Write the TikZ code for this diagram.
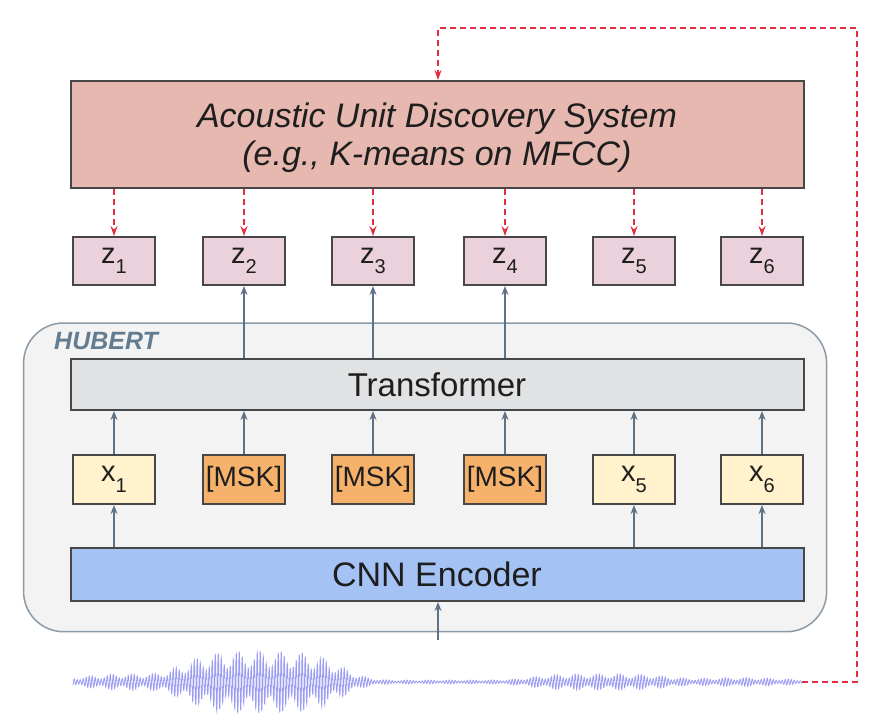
\documentclass[tikz,border=0pt]{standalone}
\usepackage{fontspec}
\setmainfont{Liberation Sans}
\usetikzlibrary{arrows.meta}
\definecolor{boxline}{HTML}{474747}
\definecolor{audfill}{HTML}{E6B8AF}
\definecolor{zfill}{HTML}{EAD1DC}
\definecolor{trfill}{HTML}{E1E2E4}
\definecolor{xfill}{HTML}{FFF2CC}
\definecolor{mskfill}{HTML}{F6B26B}
\definecolor{cnnfill}{HTML}{A4C2F4}
\definecolor{hubfill}{HTML}{F3F3F3}
\definecolor{hubline}{HTML}{8C9BA7}
\definecolor{hubtext}{HTML}{647C90}
\definecolor{arrcol}{HTML}{5E7285}
\definecolor{redc}{HTML}{E0303F}
\definecolor{wavec}{HTML}{5A5AEA}
\definecolor{txt}{HTML}{1E1E1E}
\newcommand\subs[1]{\raisebox{-0.36em}{\fontsize{20}{20}\selectfont #1}}
\begin{document}
\begin{tikzpicture}[x=1pt,y=-1pt,
  declare function={
    gA(\t,\c,\s)=exp(-pow(min(abs((\t-\c)/\s),4.5),2));
    gB(\t,\c,\s)=exp(-pow(min(abs((\t-\c)/\s),2.2),4));
    env(\t)=2+6*gA(\t,125,55)+29*gB(\t,262,85)+6*gB(\t,600,75)+2.5*gA(\t,740,50);
    osc(\t)=sin(12*mod(10*\t,30));
  },
  box/.style={draw=boxline, line width=2, inner sep=0, anchor=center, text=txt},
  wide/.style={box, minimum width=733},
  small/.style={box, minimum width=82, font=\fontsize{29}{29}\selectfont},
  arr/.style={draw=arrcol, line width=1.5, -{Stealth[length=9,width=7]}},
  reddash/.style={draw=redc, line width=1.5, dash pattern=on 6 off 4, -{Stealth[length=10,width=7]}},
  wave/.style={draw=wavec, line width=0.8, opacity=0.6}
]
\useasboundingbox (0,0) rectangle (883,720);

% HUBERT container
\node[draw=hubline, fill=hubfill, line width=1.5, rounded corners=40,
      minimum width=803, minimum height=308.7, inner sep=0] (hub) at (425.1,477.35) {};
\node[anchor=west, text=hubtext, font=\fontsize{25}{25}\selectfont\bfseries\itshape, inner sep=0] (hubl) at (54,341) {HUBERT};

% top system
\node[wide, fill=audfill, minimum height=107, align=center,
      font=\fontsize{34}{38}\selectfont\itshape] (aud) at (437,134.5)
      {\rule{0pt}{32pt}Acoustic Unit Discovery System\\[0pt](e.g., K-means on MFCC)};

% z targets
\foreach \i/\xx in {1/114,2/244,3/373,4/505,5/634,6/762}{
  \node[small, fill=zfill, minimum height=48] (z\i) at (\xx,261) {z\subs{\i}};
}

% transformer
\node[wide, fill=trfill, minimum height=51, font=\fontsize{33}{33}\selectfont] (tr) at (437,384.5) {Transformer};

% inputs
\node[small, fill=xfill, minimum height=49] (x1) at (114,479.5) {x\subs{1}};
\node[small, fill=mskfill, minimum height=49, font=\fontsize{28}{28}\selectfont] (x2) at (244,479.5) {[MSK]};
\node[small, fill=mskfill, minimum height=49, font=\fontsize{28}{28}\selectfont] (x3) at (373,479.5) {[MSK]};
\node[small, fill=mskfill, minimum height=49, font=\fontsize{28}{28}\selectfont] (x4) at (505,479.5) {[MSK]};
\node[small, fill=xfill, minimum height=49] (x5) at (634,479.5) {x\subs{5}};
\node[small, fill=xfill, minimum height=49] (x6) at (762,479.5) {x\subs{6}};

% CNN encoder
\node[wide, fill=cnnfill, minimum height=53, font=\fontsize{34}{34}\selectfont] (cnn) at (437,574.5) {CNN Encoder};

% waveform
\draw[wave] plot[domain=73:802, samples=3600]
  (\x, {682 + env(\x)*(0.72+0.28*sin(17*\x))*osc(\x)});
\coordinate (wend) at (802,682);
\coordinate (win) at (438,640);
\coordinate (c1) at (857,682);
\coordinate (c2) at (857,28);
\coordinate (c3) at (438,28);

% arrows
\foreach \i in {1,...,6}{
  \draw[reddash] (aud.south -| z\i) -- (z\i.north);
  \draw[arr] (x\i.north) -- (tr.south -| x\i);
}
\foreach \i in {2,3,4}{
  \draw[arr] (tr.north -| z\i) -- (z\i.south);
}
\foreach \i in {1,5,6}{
  \draw[arr] (cnn.north -| x\i) -- (x\i.south);
}
\draw[arr] (win) -- (cnn.south -| win);
\draw[reddash] (wend) -- (c1) -- (c2) -- (c3) -- (aud.north -| c3);
\end{tikzpicture}
\end{document}
